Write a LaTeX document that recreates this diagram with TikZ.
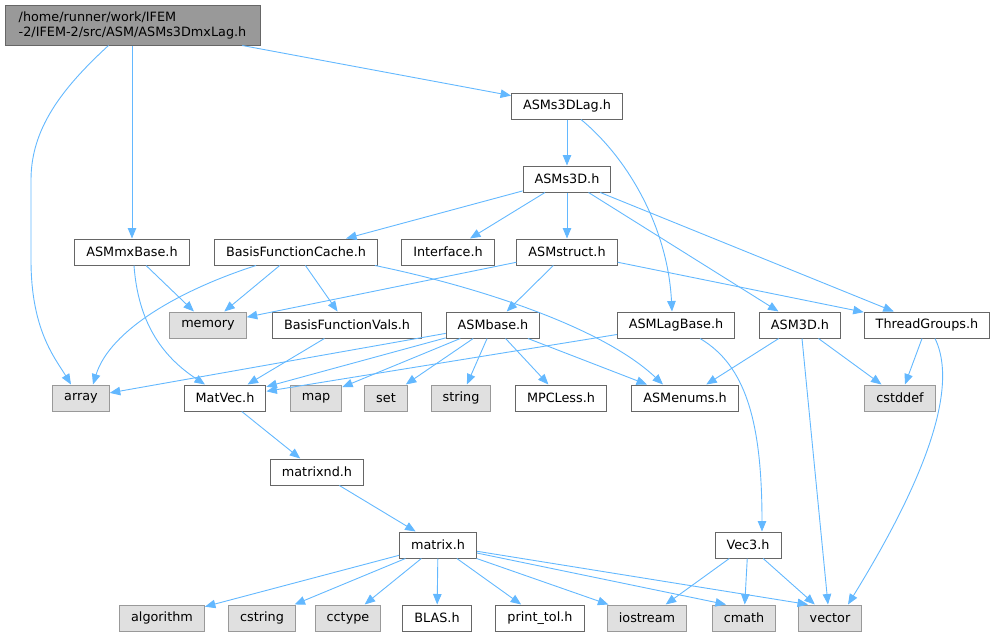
\documentclass[tikz,border=0pt]{standalone}
\usepackage{fontspec}
\setmainfont{DejaVu Sans}
\usetikzlibrary{arrows.meta}
\definecolor{edgeblue}{HTML}{63B8FF}
\definecolor{boxgray}{HTML}{E0E0E0}
\definecolor{rimgray}{HTML}{999999}
\definecolor{rimdark}{HTML}{666666}
\tikzset{
	hdr/.style={draw=rimdark,fill=white,line width=1pt,minimum height=26pt,inner xsep=11.5pt,inner ysep=0pt,font=\fontsize{12.8}{15}\selectfont},
	sys/.style={hdr,draw=rimgray,fill=boxgray},
	dep/.style={edgeblue,line width=0.9pt,-{Triangle[length=10.5pt,width=8.5pt]}}
}

\begin{document}
\begin{tikzpicture}[x=1pt,y=-1pt]
		\useasboundingbox (0,0) rectangle (997,637);
		% top of the graph
		\node[hdr,fill=rimgray,align=left,minimum width=255pt,minimum height=40pt] (root) at (132.5,25) {/home/runner/work/IFEM\\-2/IFEM-2/src/ASM/ASMs3DmxLag.h};
		\node[hdr] (s3dlag) at (567,106) {ASMs3DLag.h};
		\node[hdr] (s3d) at (567,179) {ASMs3D.h};
		
		\node[hdr] (mxbase) at (132,252) {ASMmxBase.h};
		\node[hdr] (bfcache) at (296,252) {BasisFunctionCache.h};
		\node[hdr] (iface) at (448,252) {Interface.h};
		\node[hdr] (astruct) at (567,252) {ASMstruct.h};
		
		\node[sys] (memory) at (208,325) {memory};
		\node[hdr] (bfvals) at (347,325) {BasisFunctionVals.h};
		\node[hdr] (asmbase) at (493,325) {ASMbase.h};
		\node[hdr] (lagbase) at (676,325) {ASMLagBase.h};
		\node[hdr] (asm3d) at (800,325) {ASM3D.h};
		\node[hdr] (tgroups) at (927,325) {ThreadGroups.h};
		
		\node[sys] (array) at (81,398) {array};
		\node[hdr] (matvec) at (225,398) {MatVec.h};
		\node[sys] (map) at (316,398) {map};
		\node[sys] (set) at (386,398) {set};
		\node[sys] (string) at (461,398) {string};
		\node[hdr] (mpcless) at (561,398) {MPCLess.h};
		\node[hdr] (enums) at (685,398) {ASMenums.h};
		\node[sys] (cstddef) at (900,398) {cstddef};
		
		\node[hdr] (matrixnd) at (317,472) {matrixnd.h};
		\node[hdr] (matrix) at (438,545) {matrix.h};
		\node[hdr] (vec3) at (748,545) {Vec3.h};
		
		% bottom row
		\node[sys] (algorithm) at (162,618) {algorithm};
		\node[sys] (cstring) at (262,618) {cstring};
		\node[sys] (cctype) at (348,618) {cctype};
		\node[hdr] (blas) at (437,618) {BLAS.h};
		\node[hdr] (printtol) at (540,618) {print\_tol.h};
		\node[sys] (iostream) at (647,618) {iostream};
		\node[sys] (cmath) at (744,618) {cmath};
		\node[sys] (vector) at (830,618) {vector};
		
		% includes
		\draw[dep] ([xshift=-24pt]root.south) .. controls (60,90) and (31,130) .. (31,180) -- (31,260) .. controls (31,330) and (55,358) .. ([xshift=-10pt]array.north);
		\draw[dep] (root.south -| mxbase) -- (mxbase);
		\draw[dep] (root) -- (s3dlag);
		\draw[dep] (s3dlag) -- (s3d);
		\draw[dep] ([xshift=14pt]s3dlag.south) .. controls (630,160) and (668,230) .. ([xshift=-4pt]lagbase.north);
		
		\draw[dep] (s3d) -- (bfcache);
		\draw[dep] (s3d) -- (iface);
		\draw[dep] (s3d) -- (astruct);
		\draw[dep] (s3d) -- (asm3d);
		\draw[dep] (s3d) -- (tgroups);
		
		\draw[dep] (mxbase) -- (memory);
		\draw[dep] ([xshift=2pt]mxbase.south) .. controls (138,320) and (160,355) .. ([xshift=-20pt]matvec.north);
		
		\draw[dep] ([xshift=-40pt]bfcache.south) .. controls (180,290) and (110,330) .. ([xshift=12pt]array.north);
		\draw[dep] (bfcache) -- (memory);
		\draw[dep] (bfcache) -- (bfvals);
		\draw[dep] ([xshift=-3pt]bfcache.south east) .. controls (470,285) and (600,325) .. ([xshift=-22pt]enums.north);
		
		\draw[dep] (astruct) -- (memory);
		\draw[dep] (astruct) -- (asmbase);
		\draw[dep] (astruct) -- (tgroups);
		
		\draw[dep] (bfvals) -- (matvec);
		
		\draw[dep] (asmbase) -- (array);
		\draw[dep] (asmbase) -- (matvec);
		\draw[dep] (asmbase) -- (map);
		\draw[dep] (asmbase) -- (set);
		\draw[dep] (asmbase) -- (string);
		\draw[dep] (asmbase) -- (mpcless);
		\draw[dep] (asmbase) -- ([xshift=-38pt]enums.north);
		
		\draw[dep] (lagbase) -- (matvec);
		\draw[dep] ([xshift=24pt]lagbase.south) .. controls (745,365) and (762,420) .. ([xshift=14pt]vec3.north);
		
		\draw[dep] (asm3d) -- (enums);
		\draw[dep] (asm3d) -- (cstddef);
		\draw[dep] ([xshift=2pt]asm3d.south) -- ([xshift=-2pt]vector.north);
		
		\draw[dep] (tgroups) -- (cstddef);
		\draw[dep] ([xshift=8pt]tgroups.south) .. controls (965,400) and (900,520) .. ([xshift=18pt]vector.north);
		
		\draw[dep] (matvec) -- (matrixnd);
		\draw[dep] (matrixnd) -- (matrix);
		
		\draw[dep] (matrix) -- (algorithm);
		\draw[dep] (matrix) -- (cstring);
		\draw[dep] (matrix) -- (cctype);
		\draw[dep] (matrix) -- (blas);
		\draw[dep] (matrix) -- (printtol);
		\draw[dep] (matrix) -- (iostream);
		\draw[dep] (matrix) -- ([xshift=-18pt]cmath.north);
		\draw[dep] (matrix) -- ([xshift=-22pt]vector.north);
		
		\draw[dep] (vec3) -- (iostream);
		\draw[dep] (vec3) -- (cmath);
		\draw[dep] (vec3) -- (vector);
	\end{tikzpicture}
\end{document}
